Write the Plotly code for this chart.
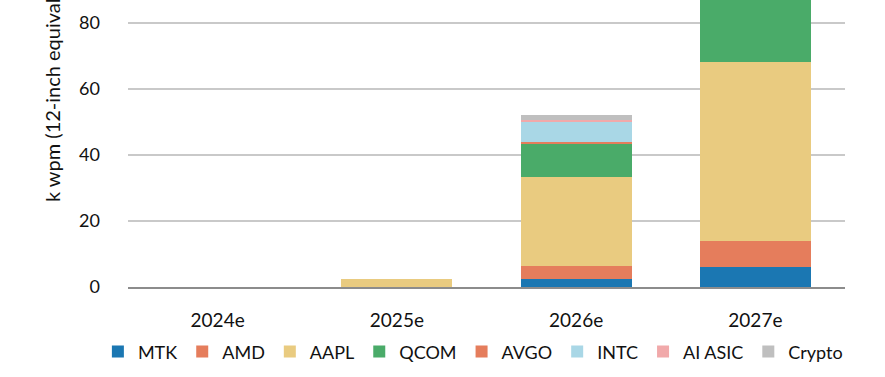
import plotly.graph_objects as go

years = ["2024e", "2025e", "2026e", "2027e"]
series_names = ["MTK", "AMD", "AAPL", "QCOM", "AVGO", "INTC", "AI ASIC", "Crypto"]
MTK = [0, 0, 2.4, 6.2]
AMD = [0, 0, 4.1, 7.8]
AAPL = [0, 2.3, 26.7, 54.1]
QCOM = [0, 0, 10.3, 26.0]
AVGO = [0, 0, 0.3, 1.0]
INTC = [0, 0, 6.3, 9.0]
AI_ASIC = [0, 0, 0.5, 1.0]
Crypto = [0, 0, 1.5, 2.0]
values = [MTK, AMD, AAPL, QCOM, AVGO, INTC, AI_ASIC, Crypto]
colors = ["#1b77b2", "#e57d5c", "#e9cb80", "#4aab69", "#e57d5c", "#a9d7e6", "#f1a9aa", "#bfbfbf"]

fig = go.Figure()
for name, vals, c in zip(series_names, values, colors):
    fig.add_trace(go.Bar(x=years, y=vals, name=name, marker=dict(color=c, line=dict(width=0))))

font = "Lato, Open Sans, sans-serif"
fig.update_layout(
    barmode="stack", bargap=0.38,
    width=885, height=377,
    margin=dict(l=128, r=40, t=0, b=90, autoexpand=False),
    plot_bgcolor="white", paper_bgcolor="white",
    font=dict(family=font, size=18, color="#111"),
    showlegend=True,
    legend=dict(orientation="h", x=-0.042, xanchor="left", y=-0.226, yanchor="middle",
                font=dict(size=18), itemwidth=30, tracegroupgap=0, traceorder="normal",
                bgcolor="rgba(0,0,0,0)", itemclick=False),
    xaxis=dict(showline=True, linecolor="#8c8c8c", linewidth=2, ticks="", tickfont=dict(size=19),
               ticklabelstandoff=15),
    yaxis=dict(range=[0, 86.97], tickvals=[0, 20, 40, 60, 80], showgrid=True, gridcolor="#c9c9c9",
               gridwidth=1.5, zeroline=False, showline=False, ticks="", ticklabelstandoff=27,
               tickfont=dict(size=18)),
)
fig.add_annotation(text="k wpm (12-inch equivalent)", textangle=-90, xref="paper", yref="paper",
                   x=-0.106, y=0.289, xanchor="center", yanchor="bottom", showarrow=False,
                   font=dict(size=20))
fig.write_html("out.html", config={"displayModeBar": False},
               post_script="document.body.style.margin='0';document.body.style.overflow='hidden';")
